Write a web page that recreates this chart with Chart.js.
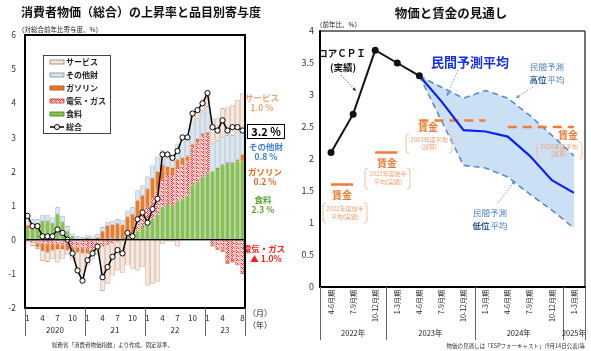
<!DOCTYPE html>
<html>
<head>
<meta charset="utf-8">
<script src="https://cdn.jsdelivr.net/npm/chart.js@4"></script>
<style>
  body { margin: 0; background: #fff; }
  canvas { position: absolute; top: 0; }
  #left { left: 0; }
  #right { left: 293px; }
  .ln { position: absolute; z-index: 5; pointer-events: none; }
  #frameL { left: 24px; top: 34px; width: 222px; height: 275px; border: 2px solid #000; box-sizing: border-box; }
  #zeroL { left: 25px; top: 239px; width: 220px; height: 1px; background: #000; }
</style>
</head>
<body>
<canvas id="left" width="293" height="351"></canvas>
<canvas id="right" width="298" height="351"></canvas>
<div class="ln" id="frameL"></div>
<div class="ln" id="zeroL"></div>
<div class="ln" style="left:25px;top:308px;width:1px;height:28px;background:#666"></div>
<div class="ln" style="left:85px;top:308px;width:1px;height:28px;background:#666"></div>
<div class="ln" style="left:145px;top:308px;width:1px;height:28px;background:#666"></div>
<div class="ln" style="left:205px;top:308px;width:1px;height:28px;background:#666"></div>
<div class="ln" style="left:245px;top:308px;width:1px;height:28px;background:#666"></div>
<script>
// ---------- left chart data (contribution to CPI yoy, %pt), Jan 2020 - Aug 2023 ----------
const monthLabels = [
  "1","","","4","","","7","","","10","","",
  "1","","","4","","","7","","","10","","",
  "1","","","4","","","7","","","10","","",
  "1","","","4","","","","8"
];
const yearLabels = ["2020", "21", "22", "23"];

const food = [
  0.30, 0.35, 0.38, 0.55, 0.55, 0.48, 0.75, 0.52, 0.25, 0.10, 0.02, 0.02,
  0.05, 0.02, 0.00, 0.00, 0.05, 0.03, 0.05, 0.02, 0.08, 0.05, 0.25, 0.40,
  0.45, 0.60, 0.75, 0.95, 1.05, 1.00, 1.15, 1.20, 1.30, 1.60, 1.70, 1.85,
  1.95, 2.00, 2.10, 2.20, 2.25, 2.25, 2.30, 2.30
];
const elecGas = [
  -0.05, -0.08, -0.10, -0.10, -0.12, -0.12, -0.12, -0.15, -0.18, -0.20, -0.22, -0.25,
  -0.28, -0.28, -0.25, -0.20, -0.15, -0.10, -0.05, -0.02, 0.10, 0.15, 0.30, 0.35,
  0.50, 0.60, 0.70, 0.80, 0.85, 0.90, 0.95, 1.00, 1.00, 1.10, 1.15, 1.20,
  1.15, -0.15, -0.25, -0.30, -0.60, -0.62, -0.75, -1.00
];
const gasoline = [
  0.12, 0.05, -0.12, -0.22, -0.25, -0.18, -0.15, -0.12, -0.12, -0.15, -0.15, -0.15,
  -0.12, -0.05, 0.05, 0.25, 0.35, 0.40, 0.42, 0.42, 0.50, 0.55, 0.60, 0.55,
  0.55, 0.60, 0.55, 0.45, 0.25, 0.20, 0.25, 0.20, 0.15, 0.10, 0.10, 0.05,
  0.05, -0.05, -0.05, -0.05, -0.10, -0.05, 0.05, 0.20
];
const otherGoods = [
  0.20, 0.20, 0.22, 0.18, 0.18, 0.17, 0.20, 0.18, 0.15, 0.08, 0.08, 0.05,
  0.10, 0.10, 0.12, 0.12, 0.12, 0.12, 0.13, 0.14, 0.18, 0.20, 0.30, 0.30,
  0.35, 0.40, 0.44, 0.43, 0.35, 0.35, 0.45, 0.60, 0.55, 0.60, 0.60, 0.65,
  0.75, 0.80, 0.80, 0.80, 0.80, 0.80, 0.80, 0.80
];
const services = [
  0.13, -0.10, -0.05, -0.30, -0.28, -0.27, -0.40, -0.30, -0.15, -0.25, -0.60, -0.85,
  -0.35, -0.25, -0.20, -1.30, -1.15, -0.95, -0.85, -0.95, -0.75, -0.85, -0.90, -0.80,
  -1.35, -1.30, -1.24, -0.13, -0.05, -0.05, -0.20, 0.05, 0.00, 0.30, 0.25, 0.25,
  0.35, 0.75, 0.65, 0.85, 0.85, 0.90, 0.95, 1.00
];
const totalCpi = [
  0.7, 0.4, 0.4, 0.1, 0.1, 0.1, 0.3, 0.2, 0.0, -0.4, -0.9, -1.2,
  -0.6, -0.4, -0.2, -1.1, -0.8, -0.5, -0.3, -0.4, 0.2, 0.1, 0.6, 0.8,
  0.5, 0.9, 1.2, 2.5, 2.5, 2.4, 2.6, 3.0, 3.0, 3.7, 3.8, 4.0,
  4.3, 3.3, 3.2, 3.5, 3.2, 3.3, 3.3, 3.2
];

// ---------- right chart data (yoy, %) ----------
const quarterLabels = [
  "4-6月期", "7-9月期", "10-12月期",
  "1-3月期", "4-6月期", "7-9月期", "10-12月期",
  "1-3月期", "4-6月期", "7-9月期", "10-12月期",
  "1-3月期"
];
const fiscalYears = ["2022年", "2023年", "2024年", "2025年"];
const coreCpi = [2.1, 2.7, 3.7, 3.5, 3.3, null, null, null, null, null, null, null];
const forecastAvg = [null, null, null, null, 3.3, 2.9, 2.45, 2.43, 2.35, 2.05, 1.67, 1.47];
const forecastHigh = [null, null, null, null, 3.3, 3.12, 2.95, 3.07, 2.95, 2.68, 2.37, 2.05];
const forecastLow = [null, null, null, null, 3.3, 2.6, 1.9, 1.86, 1.72, 1.45, 1.2, 0.92];
const wageFy22H1 = [1.6, 1.6, null, null, null, null, null, null, null, null, null, null];
const wageFy22H2 = [null, null, 2.1, 2.1, null, null, null, null, null, null, null, null];
const wageFy23 = [null, null, null, null, 2.6, 2.6, 2.6, 2.6, null, null, null, null];
const wageFy24 = [null, null, null, null, null, null, null, null, 2.5, 2.5, 2.5, 2.5];

Chart.defaults.font.family = "'Noto Sans CJK JP', 'Noto Sans', sans-serif";
Chart.defaults.color = "#222";

// red dotted pattern for 電気・ガス
function makeHatch() {
  const c = document.createElement("canvas");
  c.width = 4; c.height = 4;
  const g = c.getContext("2d");
  g.fillStyle = "#fcd6d6";
  g.fillRect(0, 0, 4, 4);
  g.fillStyle = "#e63b3b";
  [[0,0],[2,0],[1,1],[3,1],[0,2],[2,2],[1,3],[3,3]].forEach(([px, py], k) => {
    if (k % 3 !== 2) g.fillRect(px, py, 1, 1);
  });
  return g.createPattern(c, "repeat");
}
const hatch = makeHatch();

const COL = {
  food: "#88c34c", foodB: "#3f7a1f",
  elecB: "#d23232",
  gas: "#f07a22", gasB: "#9a4a10",
  goods: "#d8e7f4", goodsB: "#7a8796",
  serv: "#fde6d6", servB: "#8e7d72"
};

function txt(ctx, s, x, y, font, color, align) {
  ctx.font = font;
  ctx.fillStyle = color;
  ctx.textAlign = align || "left";
  ctx.textBaseline = "middle";
  ctx.fillText(s, x, y);
}
// straight lines drawn as filled boxes
function hbar(ctx, x1, x2, y, w, color) {
  ctx.fillStyle = color;
  ctx.fillRect(x1, y - w / 2, x2 - x1, w);
}
function vbar(ctx, x, y1, y2, w, color) {
  ctx.fillStyle = color;
  ctx.fillRect(x - w / 2, y1, w, y2 - y1);
}

// -------------------------
// LEFT: decorations
// -------------------------
const leftDecor = {
  id: "leftDecor",
  afterDraw(chart) {
    const { ctx, chartArea: a } = chart;
    const yScale = chart.scales.y;
    const step = (a.right - a.left) / monthLabels.length;
    ctx.save();

    // zero line, frame, year separators
    const y0 = yScale.getPixelForValue(0);
    hbar(ctx, a.left, a.right, y0, 1.2, "#000");
    hbar(ctx, a.left - 1, a.right + 1, a.top, 1.6, "#000");
    hbar(ctx, a.left - 1, a.right + 1, a.bottom, 1.6, "#000");
    vbar(ctx, a.left, a.top, a.bottom, 1.8, "#000");
    vbar(ctx, a.right, a.top, a.bottom, 1.8, "#000");
    [0, 12, 24, 36, 44].forEach(i => {
      vbar(ctx, Math.round(a.left + i * step) + 0.5, a.bottom, a.bottom + 28, 1, "#666");
    });

    // titles
    txt(ctx, "消費者物価（総合）の上昇率と品目別寄与度", 21, 12, "bold 12px 'Noto Sans CJK JP'", "#111");
    txt(ctx, "（対総合前年比寄与度、%）", 18, 30, "6.5px 'Noto Sans CJK JP'", "#222");
    txt(ctx, "総務省「消費者物価指数」より作成。固定基準。", 52, 345, "5.5px 'Noto Sans CJK JP'", "#333");

    // year labels
    [[0, 12], [12, 24], [24, 36], [36, 44]].forEach(([s, e], k) => {
      txt(ctx, yearLabels[k], a.left + (s + e) / 2 * step, a.bottom + 22, "8px 'Noto Sans CJK JP'", "#222", "center");
    });
    txt(ctx, "（月）", 260, 313, "8px 'Noto Sans CJK JP'", "#222", "center");
    txt(ctx, "（年）", 260, 325, "8px 'Noto Sans CJK JP'", "#222", "center");

    // legend box
    ctx.strokeStyle = "#444";
    ctx.lineWidth = 1;
    ctx.strokeRect(43.5, 55.5, 67, 78);
    const items = [
      ["サービス", COL.serv, COL.servB],
      ["その他財", COL.goods, COL.goodsB],
      ["ガソリン", COL.gas, COL.gasB],
      ["電気・ガス", hatch, COL.elecB],
      ["食料", COL.food, COL.foodB]
    ];
    items.forEach(([name, fill, border], k) => {
      const iy = 62 + k * 13;
      ctx.fillStyle = fill;
      ctx.fillRect(50, iy - 2, 14, 4);
      ctx.strokeStyle = border;
      ctx.lineWidth = 0.8;
      ctx.strokeRect(50, iy - 2, 14, 4);
      txt(ctx, name, 66, iy, "bold 8px 'Noto Sans CJK JP'", "#222");
    });
    const ly = 62 + 5 * 13;
    hbar(ctx, 50, 64, ly, 1.5, "#000");
    ctx.fillStyle = "#fff"; ctx.strokeStyle = "#000"; ctx.lineWidth = 1;
    ctx.beginPath(); ctx.arc(57, ly, 2.5, 0, Math.PI * 2); ctx.fill(); ctx.stroke();
    txt(ctx, "総合", 66, ly, "bold 8px 'Noto Sans CJK JP'", "#222");

    // right side annotations
    const f9 = "bold 8.5px 'Noto Sans CJK JP'";
    txt(ctx, "サービス", 262, 98, f9, "#f2a46e", "center");
    txt(ctx, "1.0 %", 262, 108, f9, "#f2a46e", "center");
    ctx.strokeStyle = "#000"; ctx.lineWidth = 1;
    ctx.strokeRect(247.5, 124.5, 37, 14);
    txt(ctx, "3.2 %", 266, 131.5, "bold 11px 'Noto Sans CJK JP'", "#000", "center");
    txt(ctx, "その他財", 266, 147, f9, "#3b82d6", "center");
    txt(ctx, "0.8 %", 266, 157, f9, "#3b82d6", "center");
    txt(ctx, "ガソリン", 265, 172, f9, "#e8691b", "center");
    txt(ctx, "0.2 %", 265, 182, f9, "#e8691b", "center");
    txt(ctx, "食料", 263, 200, f9, "#5ba332", "center");
    txt(ctx, "2.3 %", 263, 210, f9, "#5ba332", "center");
    txt(ctx, "電気・ガス", 264, 249, f9, "#ff1a1a", "center");
    txt(ctx, "▲ 1.0%", 266, 259, f9, "#ff1a1a", "center");
    ctx.restore();
  }
};

new Chart(document.getElementById("left").getContext("2d"), {
  type: "bar",
  data: {
    labels: monthLabels,
    datasets: [
      {
        type: "line", label: "総合", data: totalCpi, stack: "total", order: 0,
        borderColor: "#000", borderWidth: 1.5, tension: 0,
        pointRadius: 2.6, pointBackgroundColor: "#fff", pointBorderColor: "#000", pointBorderWidth: 1
      },
      { label: "食料", data: food, backgroundColor: COL.food, borderColor: COL.foodB, order: 1, stack: "s" },
      { label: "電気・ガス", data: elecGas, backgroundColor: hatch, borderColor: COL.elecB, order: 1, stack: "s" },
      { label: "ガソリン", data: gasoline, backgroundColor: COL.gas, borderColor: COL.gasB, order: 1, stack: "s" },
      { label: "その他財", data: otherGoods, backgroundColor: COL.goods, borderColor: COL.goodsB, order: 1, stack: "s" },
      { label: "サービス", data: services, backgroundColor: COL.serv, borderColor: COL.servB, order: 1, stack: "s" }
    ]
  },
  options: {
    responsive: false,
    animation: false,
    layout: { padding: { top: 35, right: 48, left: 0, bottom: 0 } },
    plugins: { legend: { display: false }, tooltip: { enabled: false } },
    datasets: { bar: { barPercentage: 0.84, categoryPercentage: 1, borderWidth: 0.6, borderSkipped: false } },
    scales: {
      x: {
        stacked: true,
        grid: { display: false, drawTicks: false, tickLength: 0 },
        border: { display: true, color: "#000", width: 1.6 },
        ticks: { autoSkip: false, maxRotation: 0, minRotation: 0, padding: 5, font: { size: 8 } },
        afterFit: s => { s.height = 43; }
      },
      y: {
        stacked: true, min: -2, max: 6,
        grid: { display: false, drawTicks: false, tickLength: 0 },
        border: { display: true, color: "#000", width: 1.8 },
        ticks: { stepSize: 1, padding: 9, font: { size: 8.5 }, color: "#333" },
        afterFit: s => { s.width = 25; }
      }
    }
  },
  plugins: [leftDecor]
});

// -------------------------
// RIGHT: decorations
// -------------------------
function bracket(ctx, x1, y1, x2, y2) {
  ctx.beginPath();
  ctx.moveTo(x1 + 3, y1); ctx.quadraticCurveTo(x1, y1, x1, y1 + 3);
  ctx.lineTo(x1, y2 - 3); ctx.quadraticCurveTo(x1, y2, x1 + 3, y2);
  ctx.moveTo(x2 - 3, y1); ctx.quadraticCurveTo(x2, y1, x2, y1 + 3);
  ctx.lineTo(x2, y2 - 3); ctx.quadraticCurveTo(x2, y2, x2 - 3, y2);
  ctx.stroke();
}
function arrow(ctx, x1, y1, x2, y2, color) {
  ctx.strokeStyle = color; ctx.fillStyle = color; ctx.lineWidth = 0.8;
  ctx.setLineDash([1.5, 1.5]);
  ctx.beginPath(); ctx.moveTo(x1, y1); ctx.lineTo(x2, y2); ctx.stroke();
  ctx.setLineDash([]);
  const ang = Math.atan2(y2 - y1, x2 - x1);
  ctx.beginPath();
  ctx.moveTo(x2, y2);
  ctx.lineTo(x2 - 4 * Math.cos(ang - 0.45), y2 - 4 * Math.sin(ang - 0.45));
  ctx.lineTo(x2 - 4 * Math.cos(ang + 0.45), y2 - 4 * Math.sin(ang + 0.45));
  ctx.closePath(); ctx.fill();
}

const rightDecor = {
  id: "rightDecor",
  afterDraw(chart) {
    const { ctx, chartArea: a } = chart;
    const step = (a.right - a.left) / quarterLabels.length;
    ctx.save();

    // frame
    hbar(ctx, a.left, a.right, a.top, 1.5, "#444");
    vbar(ctx, a.right, a.top, a.bottom, 1.5, "#444");
    vbar(ctx, a.left, a.top - 0.75, a.bottom, 2, "#000");
    hbar(ctx, a.left - 1, a.right + 0.75, a.bottom, 2, "#000");

    // fiscal-year separators
    [0, 3, 7, 11, 12].forEach(i => {
      vbar(ctx, Math.round(a.left + i * step) + 0.5, a.bottom, a.bottom + 53, 1, "#666");
    });
    [[0, 3], [3, 7], [7, 11], [11, 12]].forEach(([s, e], k) => {
      txt(ctx, fiscalYears[k], a.left + (s + e) / 2 * step, a.bottom + 46, "7.5px 'Noto Sans CJK JP'", "#222", "center");
    });

    // page coordinates from here on
    ctx.translate(-293, 0);
    txt(ctx, "物価と賃金の見通し", 451, 13, "bold 12.5px 'Noto Sans CJK JP'", "#111", "center");
    txt(ctx, "（前年比、%）", 316, 25, "6.5px 'Noto Sans CJK JP'", "#222");
    txt(ctx, "物価の見通しは「ESPフォーキャスト」(9月14日公表)等", 585, 346, "5.5px 'Noto Sans CJK JP'", "#333", "right");

    // core CPI label
    txt(ctx, "コアＣＰＩ", 342, 53, "bold 9.5px 'Noto Sans CJK JP'", "#111", "center");
    txt(ctx, "(実績)", 343, 67, "bold 9.5px 'Noto Sans CJK JP'", "#111", "center");
    arrow(ctx, 341, 75, 356, 91, "#333");

    // forecast labels
    txt(ctx, "民間予測平均", 470, 62, "bold 13px 'Noto Sans CJK JP'", "#1530e6", "center");
    arrow(ctx, 458, 70, 447, 96, "#5a8ad0");
    txt(ctx, "民間予測", 547, 67, "8.5px 'Noto Sans CJK JP'", "#4a7ec8", "center");
    txt(ctx, "高位", 538, 80, "bold 8.5px 'Noto Sans CJK JP'", "#2a5aa0", "center");
    txt(ctx, "平均", 556, 80, "8.5px 'Noto Sans CJK JP'", "#4a7ec8", "center");
    arrow(ctx, 533, 87, 516, 98, "#5a8ad0");
    txt(ctx, "民間予測", 490, 213, "8.5px 'Noto Sans CJK JP'", "#4a7ec8", "center");
    txt(ctx, "低位", 481, 226, "bold 8.5px 'Noto Sans CJK JP'", "#2a5aa0", "center");
    txt(ctx, "平均", 499, 226, "8.5px 'Noto Sans CJK JP'", "#4a7ec8", "center");
    arrow(ctx, 498, 203, 515, 181, "#5a8ad0");

    // wage labels
    const wOr = "#ee7a30", wLight = "#f0a070";
    const wb = "bold 10px 'Noto Sans CJK JP'", ws = "6px 'Noto Sans CJK JP'";
    txt(ctx, "賃金", 342, 195, wb, wOr, "center");
    txt(ctx, "2022年度前半", 345, 209, ws, wLight, "center");
    txt(ctx, "平均(実績)", 345, 217, ws, wLight, "center");
    txt(ctx, "賃金", 387, 163, wb, wOr, "center");
    txt(ctx, "2022年度後半", 388, 174, ws, wLight, "center");
    txt(ctx, "平均(実績)", 388, 182, ws, wLight, "center");
    txt(ctx, "賃金", 428, 127, wb, wOr, "center");
    txt(ctx, "2023年度平均", 429, 140, ws, wLight, "center");
    txt(ctx, "(試算)", 429, 147, ws, wLight, "center");
    txt(ctx, "賃金", 568, 135, wb, wOr, "center");
    txt(ctx, "2024年度平均", 559, 147, ws, wLight, "center");
    txt(ctx, "(試算)", 559, 154, ws, wLight, "center");
    ctx.strokeStyle = "#f5bf9a"; ctx.lineWidth = 1;
    bracket(ctx, 323, 203, 367, 223);
    bracket(ctx, 365, 168, 410, 189);
    bracket(ctx, 406, 134, 452, 153);
    bracket(ctx, 537, 142, 582, 159);
    ctx.restore();
  }
};

const wageStyle = { borderColor: "#f07d33", borderWidth: 2.5, pointRadius: 0, fill: false };

new Chart(document.getElementById("right").getContext("2d"), {
  type: "line",
  data: {
    labels: quarterLabels,
    datasets: [
      {
        label: "コアCPI（実績）", data: coreCpi, borderColor: "#111", borderWidth: 2,
        pointRadius: 2.5, pointBackgroundColor: "#111", pointBorderColor: "#111", fill: false
      },
      { label: "民間予測平均", data: forecastAvg, borderColor: "#0a22ee", borderWidth: 2.2, pointRadius: 0, fill: false },
      { label: "賃金 2022年度前半", data: wageFy22H1, ...wageStyle },
      { label: "賃金 2022年度後半", data: wageFy22H2, ...wageStyle },
      { label: "賃金 2023年度", data: wageFy23, ...wageStyle, borderDash: [9, 6] },
      { label: "賃金 2024年度", data: wageFy24, ...wageStyle, borderDash: [9, 6] },
      {
        label: "民間予測高位平均", data: forecastHigh, borderColor: "#5b8bc9", borderWidth: 1.6,
        borderDash: [6, 4], pointRadius: 0, fill: "+1", backgroundColor: "rgba(140,185,232,0.45)"
      },
      {
        label: "民間予測低位平均", data: forecastLow, borderColor: "#5b8bc9", borderWidth: 1.6,
        borderDash: [6, 4], pointRadius: 0, fill: false
      }
    ]
  },
  options: {
    responsive: false,
    animation: false,
    layout: { padding: { top: 31, right: 5, left: 0, bottom: 0 } },
    plugins: { legend: { display: false }, tooltip: { enabled: false }, filler: { drawTime: "beforeDatasetsDraw" } },
    scales: {
      x: {
        offset: true,
        grid: { display: false, drawTicks: false, tickLength: 0 },
        border: { display: false },
        ticks: { autoSkip: false, minRotation: 90, maxRotation: 90, padding: 3, font: { size: 7 } },
        afterFit: s => { s.height = 64; }
      },
      y: {
        min: 0, max: 4,
        grid: { display: false, drawTicks: false, tickLength: 0 },
        border: { display: false },
        ticks: { stepSize: 0.5, padding: 6, font: { size: 9 }, color: "#333", callback: v => String(v) },
        afterFit: s => { s.width = 27; }
      }
    }
  },
  plugins: [rightDecor]
});
</script>
</body>
</html>
